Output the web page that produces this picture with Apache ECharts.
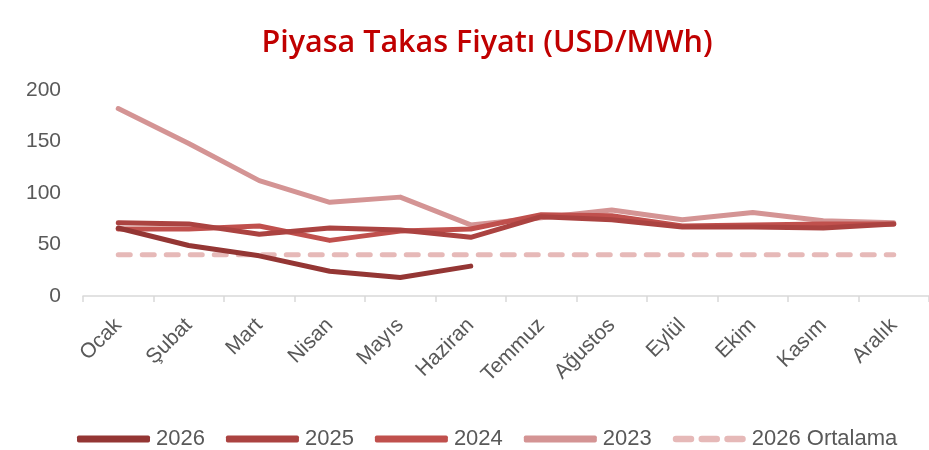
<!DOCTYPE html>
<html>
<head>
<meta charset="utf-8">
<script src="https://cdn.jsdelivr.net/npm/echarts@6/dist/echarts.min.js"></script>
<style>html,body{margin:0;padding:0;background:#fff;}#c{width:929px;height:450px;}</style>
</head>
<body>
<div id="c"></div>
<script>
const months = ['Ocak','Şubat','Mart','Nisan','Mayıs','Haziran','Temmuz','Ağustos','Eylül','Ekim','Kasım','Aralık'];
const y2026 = [66, 49, 39, 24, 18, 29, null, null, null, null, null, null];
const y2025 = [71, 70, 60, 66, 64, 57, 77, 74, 67, 67, 66, 70];
const y2024 = [65, 65, 68, 54, 63, 65, 79, 78, 68, 69, 70, 70];
const y2023 = [182, 148, 112, 91, 96, 69, 76, 83.5, 74, 81, 73, 71];
const avg2026 = [40, 40, 40, 40, 40, 40, 40, 40, 40, 40, 40, 40];
const yTicks = {min: 0, max: 200, interval: 50};

const chart = echarts.init(document.getElementById('c'));
function ln(name, data, color, dashed) {
  return {
    name, type: 'line', data, symbol: 'none', z: dashed ? 1 : 2,
    lineStyle: {color, width: 5, cap: 'round', join: 'round', type: dashed ? [12, 12] : 'solid'},
    itemStyle: {color}
  };
}
const dashIcon = 'path://M3,0h14a3,3 0 0 1 0,6h-14a3,3 0 0 1 0,-6z M27,0h14a3,3 0 0 1 0,6h-14a3,3 0 0 1 0,-6z M51,0h14a3,3 0 0 1 0,6h-14a3,3 0 0 1 0,-6z';
chart.setOption({
  animation: false,
  title: {
    text: 'Piyasa Takas Fiyatı (USD/MWh)', left: 482, top: 23, textAlign: 'center',
    textStyle: {color: '#C00000', fontFamily: 'Open Sans', fontWeight: 600, fontSize: 30.5}
  },
  grid: {left: 83, right: -11, top: 90, bottom: 154},
  legend: {
    top: 423, left: 72, itemWidth: 73, itemHeight: 7, itemGap: 21,
    textStyle: {color: '#595959', fontSize: 22, fontFamily: 'Liberation Sans', padding: [0, 0, 0, 1]},
    data: [
      {name: '2026', icon: 'roundRect'},
      {name: '2025', icon: 'roundRect'},
      {name: '2024', icon: 'roundRect'},
      {name: '2023', icon: 'roundRect'},
      {name: '2026 Ortalama', icon: dashIcon, itemStyle: {color: '#E6B9B8'}}
    ]
  },
  xAxis: {
    type: 'category', data: months, boundaryGap: true,
    axisLine: {lineStyle: {color: '#D9D9D9', width: 1.5}},
    axisTick: {show: true, length: 6, lineStyle: {color: '#D9D9D9', width: 1.5}},
    axisLabel: {rotate: 45, color: '#595959', fontSize: 21, fontFamily: 'Liberation Sans', margin: 26, interval: 0}
  },
  yAxis: {
    type: 'value', min: yTicks.min, max: yTicks.max, interval: yTicks.interval,
    axisLine: {show: false}, axisTick: {show: false}, splitLine: {show: false},
    axisLabel: {color: '#595959', fontSize: 21, fontFamily: 'Liberation Sans', margin: 22}
  },
  series: [
    ln('2026 Ortalama', avg2026, '#E6B9B8', true),
    ln('2023', y2023, '#D49494', false),
    ln('2024', y2024, '#C0504D', false),
    ln('2025', y2025, '#AB4341', false),
    ln('2026', y2026, '#943634', false)
  ]
});
</script>
</body>
</html>
